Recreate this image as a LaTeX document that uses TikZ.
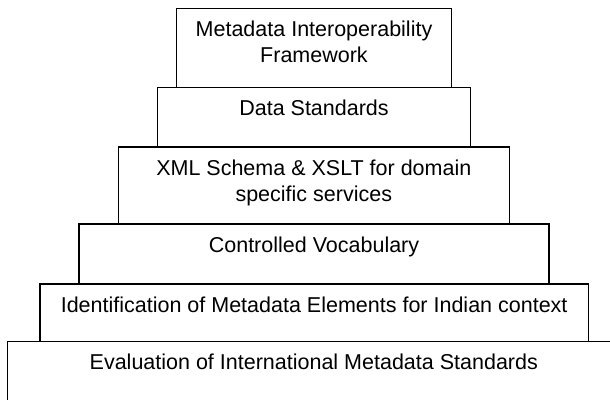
\documentclass[tikz,border=0pt]{standalone}
\usepackage{fontspec}
\setmainfont{Liberation Sans}
\usetikzlibrary{positioning}
\begin{document}
\begin{tikzpicture}[x=1pt,y=-1pt,
  tier/.style={draw=black, line width=1.1pt, fill=white, inner sep=0pt, outer sep=0pt, anchor=north west},
  txt/.style={anchor=north, inner sep=0pt, outer sep=0pt, align=center, font=\fontsize{21.5}{26}\selectfont}]
\useasboundingbox (0,0) rectangle (610,399);
\clip (0,0) rectangle (610,399);
\node[tier, minimum width=275pt,   minimum height=79pt]   (b1) at (176.5,8.3) {};
\node[tier, minimum width=313.4pt, minimum height=59.7pt] (b2) at (157.3,87.3) {};
\node[tier, minimum width=391pt,   minimum height=77pt]   (b3) at (118.3,147) {};
\node[tier, minimum width=470pt,   minimum height=60pt]   (b4) at (79,224) {};
\node[tier, minimum width=548.3pt, minimum height=57.7pt] (b5) at (40,284) {};
\node[tier, minimum width=613pt,   minimum height=80pt]   (b6) at (7.3,341.7) {};
\node[txt, below=12.7pt of b1.north] (t1) {Metadata Interoperability\\Framework};
\node[txt, below=12.7pt of b2.north] (t2) {Data Standards};
\node[txt, below=12.7pt of b3.north] (t3) {XML Schema \& XSLT for domain\\specific services};
\node[txt, below=12.7pt of b4.north] (t4) {Controlled Vocabulary};
\node[txt, below=12.7pt of b5.north] (t5) {Identification of Metadata Elements for Indian context};
\node[txt, below=12.7pt of b6.north] (t6) {Evaluation of International Metadata Standards};
\end{tikzpicture}
\end{document}
